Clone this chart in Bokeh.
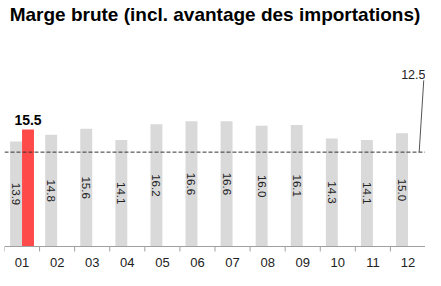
import numpy as np
from bokeh.plotting import figure
from bokeh.models import ColumnDataSource, Span, Label, Range1d
from bokeh.core.properties import value
from bokeh.embed import file_html
from bokeh.resources import INLINE

# ---- data ----
categories = ["01", "02", "03", "04", "05", "06", "07", "08", "09", "10", "11", "12"]
prev_values = [13.9, 14.8, 15.6, 14.1, 16.2, 16.6, 16.6, 16.0, 16.1, 14.3, 14.1, 15.0]
curr_values = [15.5]
threshold = 12.5
title_text = "Marge brute (incl. avantage des importations)"

FONT = "Liberation Sans"
PX = 1 / 7.55            # data units per screen pixel (vertical)
BASE = 246               # canvas pixel row of the zero line
x = np.arange(1, len(categories) + 1)
bar_w = 0.34

src_prev = ColumnDataSource(dict(
    x=x - bar_w / 2,
    top=prev_values,
    mid=[v / 2 for v in prev_values],
    label=[f"{v:.1f}" for v in prev_values],
))
src_curr = ColumnDataSource(dict(
    x=x[:len(curr_values)] + bar_w / 2,
    top=curr_values,
    label=[f"{v:.1f}" for v in curr_values],
))
src_cat = ColumnDataSource(dict(x=x, y=np.zeros(len(x)), label=categories))
bounds = np.arange(len(categories) + 1) + 0.5
src_ticks = ColumnDataSource(dict(x=bounds, y0=np.zeros(len(bounds)), y1=np.full(len(bounds), -5 * PX)))

p = figure(width=425, height=270, output_backend="svg", toolbar_location=None,
           x_range=Range1d(0.5, len(categories) + 0.5),
           y_range=Range1d(-(270 - BASE) * PX, BASE * PX),
           min_border_left=4, min_border_right=0, min_border_top=0, min_border_bottom=0)
p.outline_line_color = None
p.xgrid.visible = False
p.ygrid.visible = False
p.xaxis.visible = False
p.yaxis.visible = False

p.vbar(x="x", top="top", width=bar_w, source=src_prev, color="#D9D9D9", line_color=None)
p.vbar(x="x", top="top", width=bar_w, source=src_curr, color="#FF4A4A", line_color=None)

p.text(x="x", y="mid", text="label", source=src_prev, angle=-np.pi / 2,
       text_align="center", text_baseline="middle", text_font=value(FONT),
       text_font_size="11.5px", text_color="#222222")
p.text(x="x", y="top", text="label", source=src_curr, y_offset=-9,
       text_align="center", text_baseline="alphabetic", text_font=value(FONT),
       text_font_size="14px", text_font_style="bold", text_color="#000000")

# category axis: baseline, boundary ticks, labels
p.add_layout(Span(location=0, dimension="width", line_color="#A0A0A0", line_width=1))
p.segment(x0="x", y0="y0", x1="x", y1="y1", source=src_ticks, line_color="#A0A0A0", line_width=1)
p.text(x="x", y="y", text="label", source=src_cat, y_offset=16,
       text_align="center", text_baseline="middle", text_font=value(FONT),
       text_font_size="13px", text_color="#222222")

p.add_layout(Span(location=threshold, dimension="width", line_color="#333333",
                  line_width=1, line_dash="4 2"))
p.line(x=[12.32, 12.45], y=[threshold, 22.0], line_color="#555555", line_width=1)
p.add_layout(Label(x=len(categories) + 0.5, y=22.8, text=f"{threshold:.1f}",
                   text_align="right", text_baseline="alphabetic", text_font=FONT,
                   text_font_size="12.5px", text_color="#222222"))

p.add_layout(Label(x=(len(categories) + 1) / 2, y=(BASE - 14) * PX, text=title_text,
                   text_align="center", text_baseline="alphabetic", text_font=FONT,
                   text_font_size="19px", text_font_style="bold", text_color="#000000"))

open("out.html", "w").write(file_html(p, INLINE))
